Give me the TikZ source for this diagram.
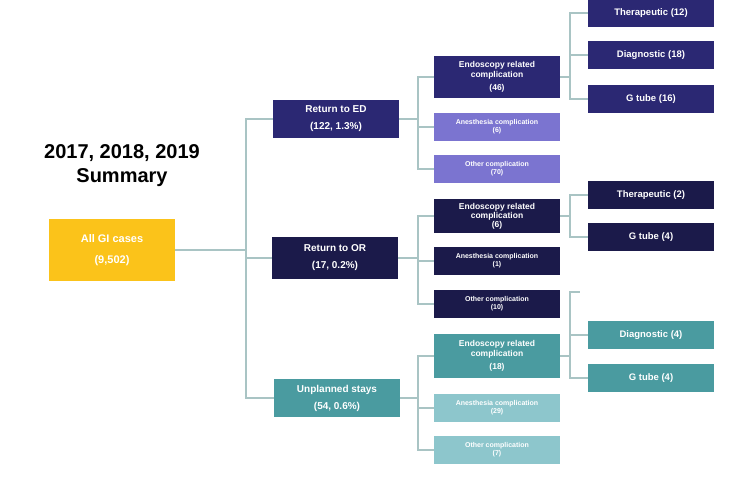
\documentclass[tikz,border=0pt]{standalone}
\usepackage{fontspec}
\setmainfont{Liberation Sans}
\usetikzlibrary{positioning}
\definecolor{gold}{HTML}{FBC31A}
\definecolor{indigo}{HTML}{2B2873}
\definecolor{night}{HTML}{1B1A4A}
\definecolor{lilac}{HTML}{7B74D0}
\definecolor{teal}{HTML}{4A9BA0}
\definecolor{paleteal}{HTML}{8DC6CC}
\definecolor{wire}{HTML}{A9C4C4}
\tikzset{
  box/.style={text=white,font=\bfseries\fontsize{9.5}{12}\selectfont,align=center,inner sep=0pt,minimum width=126pt},
  small/.style={box,font=\bfseries\fontsize{7}{8}\selectfont},
  link/.style={draw=wire,line width=1.6pt},
}
\begin{document}
\begin{tikzpicture}[x=1pt,y=-1pt]
\useasboundingbox (0,0) rectangle (745,477);
\node[font=\bfseries\fontsize{20}{24}\selectfont,align=center] (title) at (122,166) {2017, 2018, 2019\\Summary};
\node[box,fill=gold,minimum width=126pt,minimum height=62pt,font=\bfseries\fontsize{11}{21}\selectfont] (root) at (112,250) {All GI cases\\(9,502)};
% second level
\node[box,fill=indigo,minimum height=38pt,font=\bfseries\fontsize{10}{17}\selectfont] (ed) at (336,119) {Return to ED\\(122, 1.3\%)};
\node[box,fill=night,minimum height=42pt,font=\bfseries\fontsize{10}{17}\selectfont] (or) at (335,258) {Return to OR\\(17, 0.2\%)};
\node[box,fill=teal,minimum height=38pt,font=\bfseries\fontsize{10}{17}\selectfont] (un) at (337,398) {Unplanned stays\\(54, 0.6\%)};
% third level
\node[box,fill=indigo,minimum height=42pt,font=\bfseries\fontsize{8.5}{10}\selectfont] (ee) at (497,77) {Endoscopy related\\complication\\[3pt](46)};
\node[small,fill=lilac,minimum height=28pt] (ea) at (497,127) {Anesthesia complication\\(6)};
\node[small,fill=lilac,minimum height=28pt] (eo) at (497,169) {Other complication\\(70)};
\node[box,fill=night,minimum height=34pt,font=\bfseries\fontsize{8.5}{9}\selectfont] (oe) at (497,216) {Endoscopy related\\complication\\(6)};
\node[small,fill=night,minimum height=28pt] (oa) at (497,261) {Anesthesia complication\\(1)};
\node[small,fill=night,minimum height=28pt] (oo) at (497,304) {Other complication\\(10)};
\node[box,fill=teal,minimum height=44pt,font=\bfseries\fontsize{8.5}{10}\selectfont] (ue) at (497,356) {Endoscopy related\\complication\\[3pt](18)};
\node[small,fill=paleteal,minimum height=28pt] (ua) at (497,408) {Anesthesia complication\\(29)};
\node[small,fill=paleteal,minimum height=28pt] (uo) at (497,450) {Other complication\\(7)};
% fourth level
\node[box,fill=indigo,minimum height=27pt] (et) at (651,13) {Therapeutic (12)};
\node[box,fill=indigo,minimum height=28pt] (ed2) at (651,55) {Diagnostic (18)};
\node[box,fill=indigo,minimum height=28pt] (eg) at (651,99) {G tube (16)};
\node[box,fill=night,minimum height=28pt] (ot) at (651,195) {Therapeutic (2)};
\node[box,fill=night,minimum height=28pt] (og) at (651,237) {G tube (4)};
\node[box,fill=teal,minimum height=28pt] (ud) at (651,335) {Diagnostic (4)};
\node[box,fill=teal,minimum height=28pt] (ug) at (651,378) {G tube (4)};
\coordinate (utop) at (580,292);
% connectors
\draw[link] (root.east) -- ++(71,0) coordinate (rj);
\foreach \c in {ed,or,un} \draw[link] (rj) |- (\c.west);
\draw[link] (ed.east) -- ++(19,0) coordinate (edj);
\foreach \c in {ee,ea,eo} \draw[link] (edj) |- (\c.west);
\draw[link] (or.east) -- ++(20,0) coordinate (orj);
\foreach \c in {oe,oa,oo} \draw[link] (orj) |- (\c.west);
\draw[link] (un.east) -- ++(18,0) coordinate (unj);
\foreach \c in {ue,ua,uo} \draw[link] (unj) |- (\c.west);
\draw[link] (ee.east) -- ++(10,0) coordinate (eej);
\foreach \c in {et,ed2,eg} \draw[link] (eej) |- (\c.west);
\draw[link] (oe.east) -- ++(10,0) coordinate (oej);
\foreach \c in {ot,og} \draw[link] (oej) |- (\c.west);
\draw[link] (ue.east) -- ++(10,0) coordinate (uej);
\foreach \c in {ud,ug} \draw[link] (uej) |- (\c.west);
\draw[link] (uej) |- (utop);
\end{tikzpicture}
\end{document}
